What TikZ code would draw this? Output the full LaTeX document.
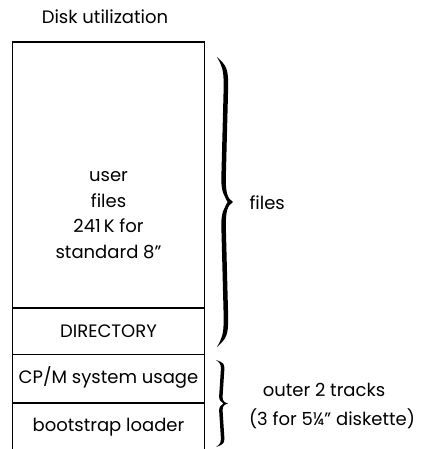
\documentclass[tikz,border=0pt]{standalone}
\usepackage{fontspec}
\setmainfont{Poppins}
\usetikzlibrary{positioning, calc}

% filled curly brace opening to the left: base x, top y, bottom y, depth, stroke
\newcommand{\curlybrace}[5]{%
    \pgfmathsetmacro{\bmid}{(#2+#3)/2}
    \pgfmathsetmacro{\bcurl}{0.1*(#3-#2)}
    \pgfmathsetmacro{\btip}{0.08*(#3-#2)}
    \fill (#1,#2)
        .. controls +(0.6*#4,0.3*\bcurl) and +(0,-0.6*\bcurl) .. (#1+0.7*#4,#2+\bcurl)
        -- (#1+0.55*#4,\bmid-\btip)
        .. controls +(0,0.6*\btip) and +(-0.35*#4,-0.15*\btip) .. (#1+#4,\bmid)
        .. controls +(-0.35*#4,0.15*\btip) and +(0,-0.6*\btip) .. (#1+0.55*#4,\bmid+\btip)
        -- (#1+0.7*#4,#3-\bcurl)
        .. controls +(0,0.6*\bcurl) and +(0.6*#4,-0.3*\bcurl) .. (#1,#3)
        .. controls +(0.3*#4,-0.3*\bcurl) and +(0,0.6*\bcurl) .. (#1+0.7*#4-#5,#3-\bcurl)
        -- (#1+0.55*#4-#5,\bmid+\btip)
        .. controls +(0,-0.6*\btip) and +(-0.2*#4,0.3*\btip) .. (#1+#4-#5-1,\bmid)
        .. controls +(-0.2*#4,-0.3*\btip) and +(0,0.6*\btip) .. (#1+0.55*#4-#5,\bmid-\btip)
        -- (#1+0.7*#4-#5,#2+\bcurl)
        .. controls +(0,-0.6*\bcurl) and +(0.3*#4,0.3*\bcurl) .. (#1,#2) -- cycle;
}

\begin{document}
\begin{tikzpicture}[
    x=1pt, y=-1pt,
    font=\fontsize{18}{25.5}\selectfont,
    part/.style={
        align=center, inner sep=0pt,
    },
    outline/.style={
        line width=1.4pt,
    },
]
\useasboundingbox (0,0) rectangle (424,449);

% Title
\node (title) at (105,17) {Disk utilization};

% Outline of the disk, open at the bottom
\coordinate (tl) at (12.5,42);
\coordinate (tr) at (204.5,42);
\coordinate (bl) at (12.5,449);
\coordinate (br) at (204.5,449);
\draw[outline] (bl) -- (tl) -- (tr) -- (br);
\foreach \yy in {308,354.5,403}
    \draw[outline] (tl |- 0,\yy) -- (tr |- 0,\yy);

% Compartments
\node[part] (userfiles) at (108.5,215)
    {user\\files\\241\,K for\\standard 8''};
\node[part] (directory) at (108.5,331) {DIRECTORY};
\node[part] (cpm) at (108.5,377) {CP/M system usage};
\node[part] (boot) at (108.5,427) {bootstrap loader};

% Braces and their labels
\curlybrace{217}{57}{347}{16}{4.5}
\node[anchor=west] (fileslbl) at (246,203) {files};

\curlybrace{216}{360}{447}{12}{3.5}
\node (outerlbl) at (324,390) {outer 2 tracks};
\node (sizelbl) at (332,419) {(3 for 5¼'' diskette)};

\end{tikzpicture}
\end{document}
